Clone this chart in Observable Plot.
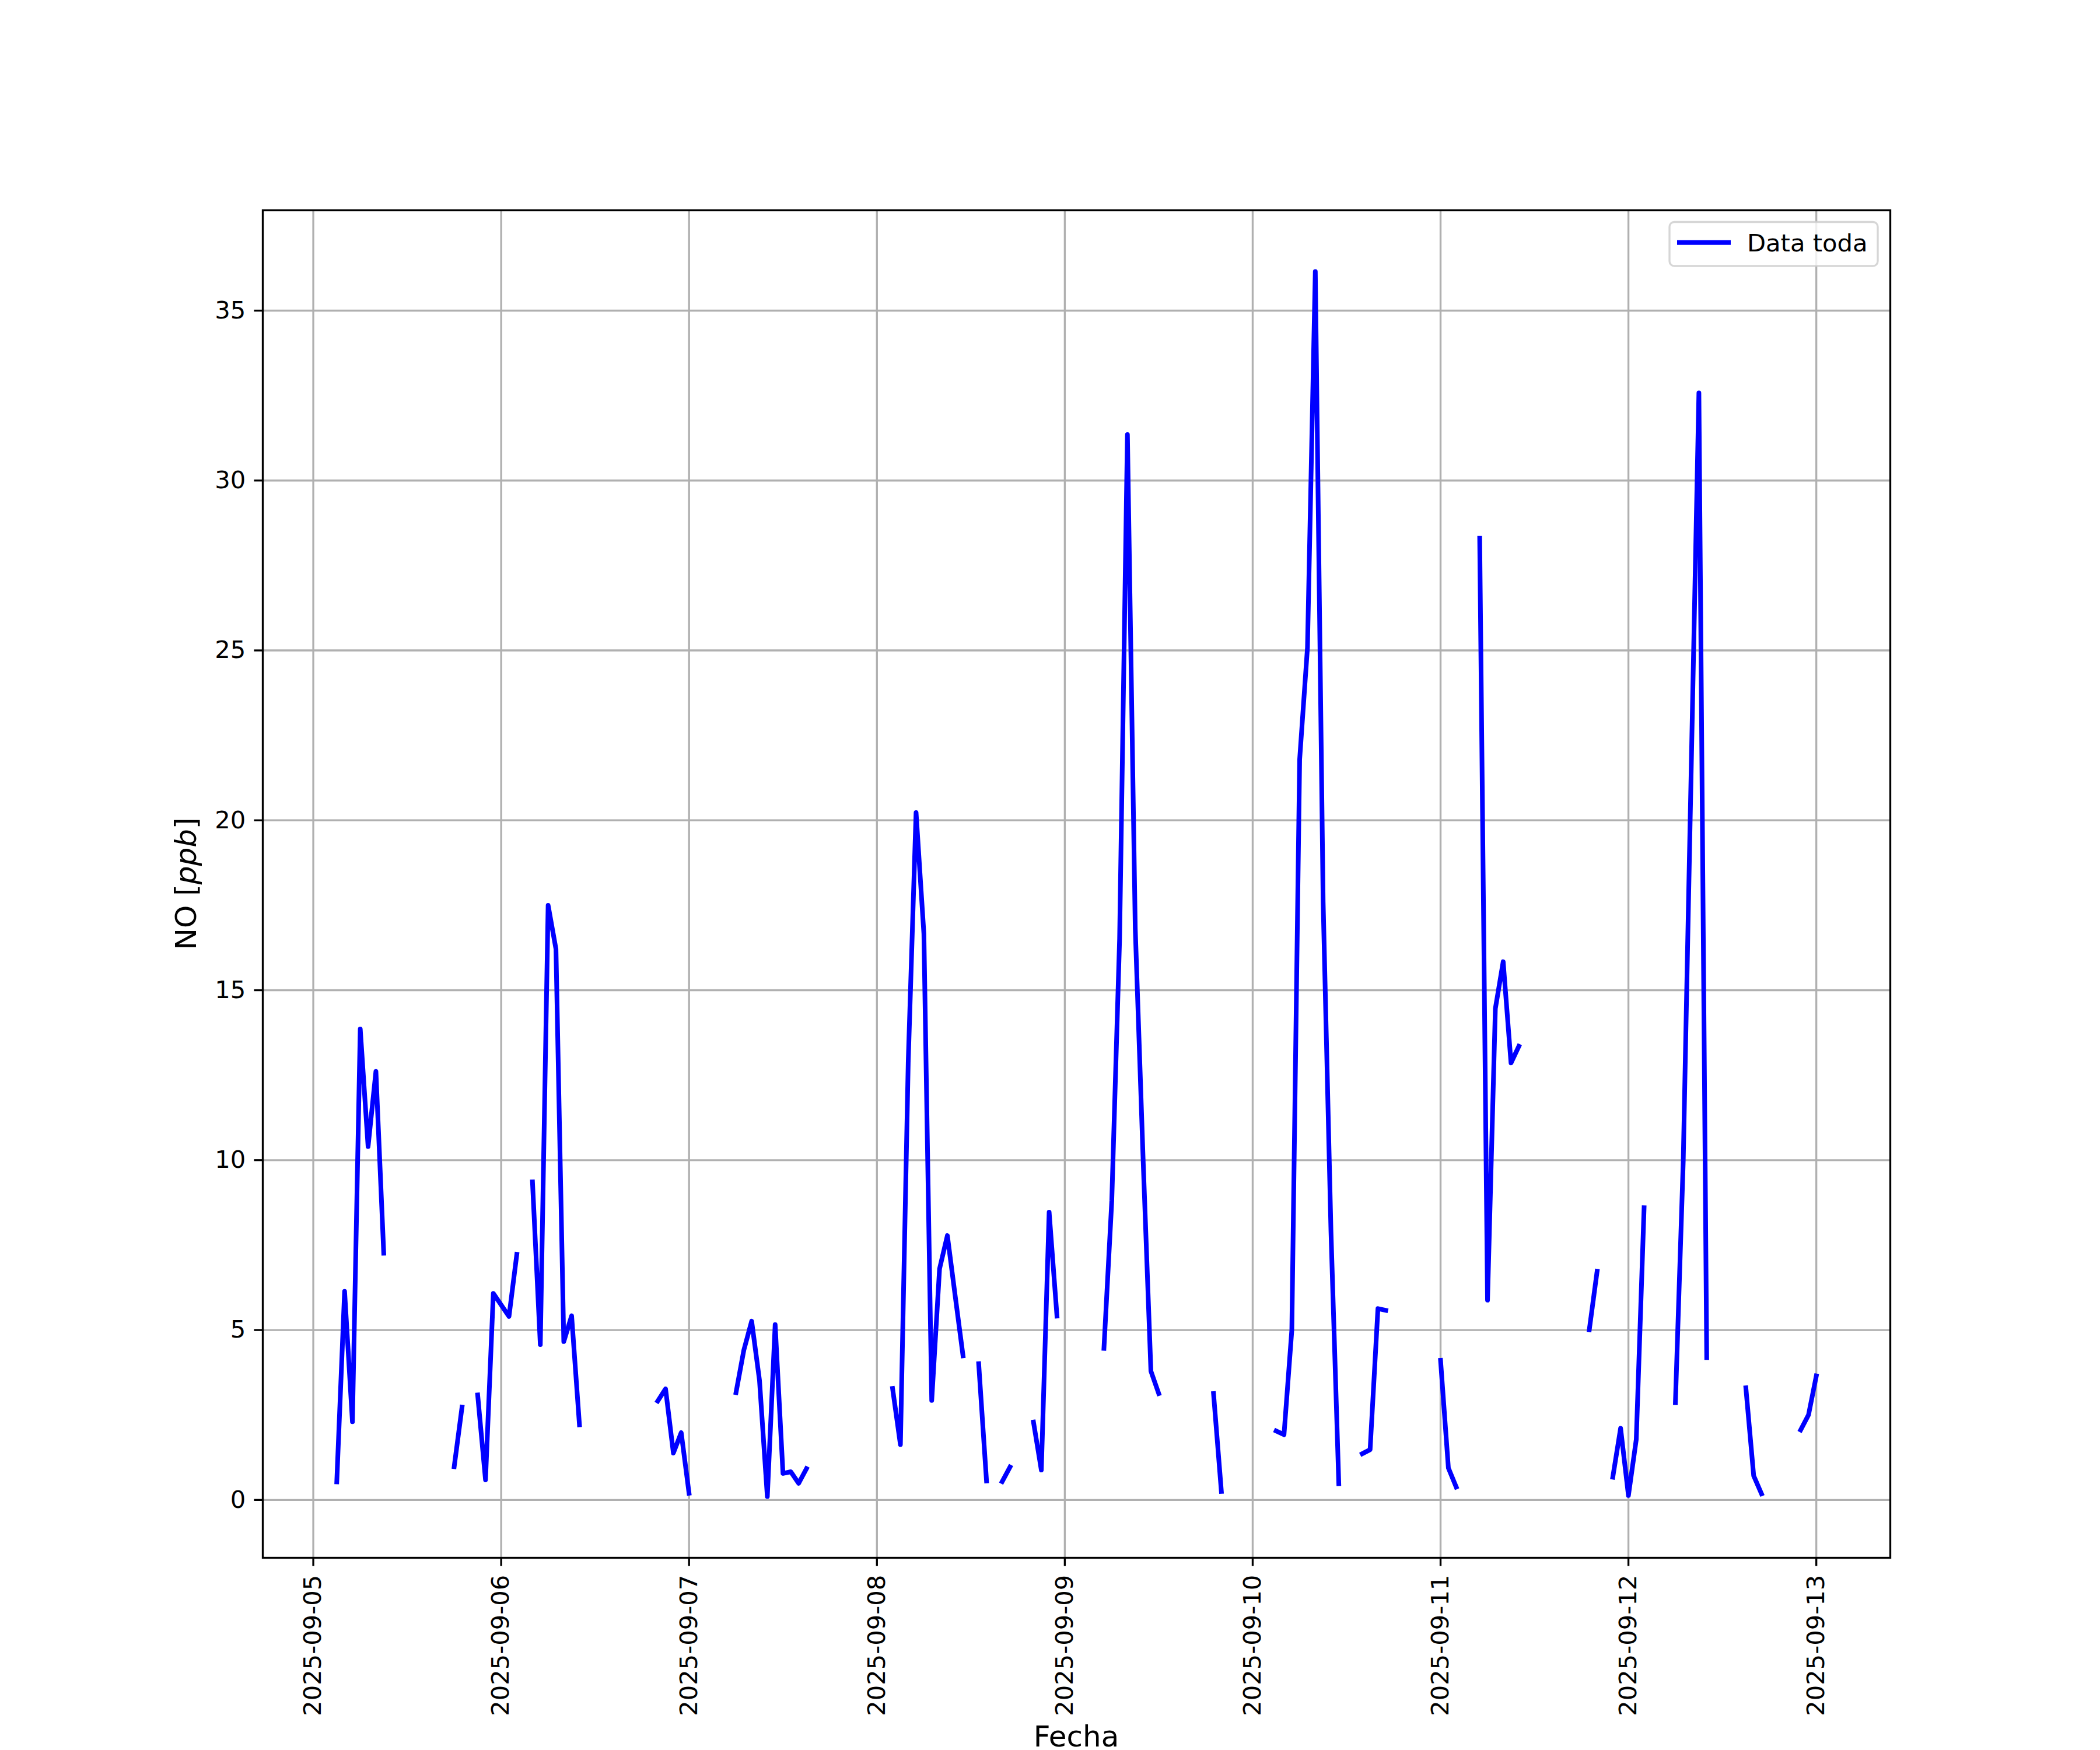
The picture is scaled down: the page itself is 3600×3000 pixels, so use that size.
<!DOCTYPE html>
<html>
<head>
<meta charset="utf-8">
<script src="https://cdn.jsdelivr.net/npm/d3@7"></script>
<script src="https://cdn.jsdelivr.net/npm/@observablehq/plot@0.6"></script>
<style>
  html, body { margin: 0; padding: 0; background: #ffffff; overflow: hidden; }
  #chart svg { display: block; }
</style>
</head>
<body>
<div id="chart"></div>
<script>
// ---- Data: hourly NO readings (ppb); each run of consecutive hours is a segment ----
const segmentStarts = [
  "2025-09-05T03:00", "2025-09-05T18:00", "2025-09-05T21:00", "2025-09-06T04:00",
  "2025-09-06T20:00", "2025-09-07T06:00", "2025-09-08T02:00", "2025-09-08T13:00",
  "2025-09-08T16:00", "2025-09-08T20:00", "2025-09-09T05:00", "2025-09-09T19:00",
  "2025-09-10T03:00", "2025-09-10T14:00", "2025-09-11T00:00", "2025-09-11T05:00",
  "2025-09-11T19:00", "2025-09-11T22:00", "2025-09-12T06:00", "2025-09-12T15:00",
  "2025-09-12T22:00"
];
const segmentValues = [
  [0.53, 6.14, 2.30, 13.86, 10.40, 12.61, 7.26],
  [0.98, 2.73],
  [3.09, 0.59, 6.08, 5.74, 5.40, 7.23],
  [9.36, 4.57, 17.50, 16.21, 4.66, 5.42, 2.21],
  [2.91, 3.27, 1.38, 1.98, 0.20],
  [3.16, 4.41, 5.26, 3.52, 0.10, 5.16, 0.78, 0.83, 0.49, 0.92],
  [3.28, 1.63, 12.9, 20.23, 16.66, 2.93, 6.80, 7.78, 6.0, 4.24],
  [4.01, 0.56],
  [0.54, 0.97],
  [2.29, 0.88, 8.47, 5.41],
  [4.46, 8.80, 16.51, 31.35, 16.82, 10.05, 3.79, 3.13],
  [3.13, 0.25],
  [2.03, 1.92, 5.00, 21.79, 25.09, 36.15, 17.60, 7.90, 0.48],
  [1.36, 1.48, 5.63, 5.58],
  [4.11, 0.94, 0.38],
  [28.30, 5.88, 14.46, 15.84, 12.86, 13.35],
  [5.01, 6.73],
  [0.67, 2.11, 0.13, 1.78, 8.60],
  [2.86, 9.96, 21.30, 32.58, 4.19],
  [3.30, 0.71, 0.18],
  [2.06, 2.50, 3.65]
];
const xTickLabels = ["2025-09-05", "2025-09-06", "2025-09-07", "2025-09-08", "2025-09-09",
                     "2025-09-10", "2025-09-11", "2025-09-12", "2025-09-13"];
const yTickValues = [0, 5, 10, 15, 20, 25, 30, 35];
const seriesName = "Data toda";
const xLabel = "Fecha";

// ---- Build table ----
const HOUR = 3600e3;
const rows = [];
segmentStarts.forEach((s, i) => {
  const t0 = Date.parse(s + ":00Z");
  segmentValues[i].forEach((v, j) => rows.push({t: new Date(t0 + j * HOUR), v, seg: i}));
});
const xTicks = xTickLabels.map(d => new Date(d + "T00:00:00Z"));

// matplotlib-style 5% margins
const [tMin, tMax] = d3.extent(rows, d => +d.t);
const [vMin, vMax] = d3.extent(rows, d => d.v);
const tPad = (tMax - tMin) * 0.05, vPad = (vMax - vMin) * 0.05;
const xDomain = [new Date(tMin - tPad), new Date(tMax + tPad)];
const yDomain = [vMin - vPad, vMax + vPad];

const FS = 41.67, LFS = 50, LW = 3.33, TICK = 14.58, DATA_LW = 8;

const chart = Plot.plot({
  width: 3600, height: 3000,
  marginLeft: 450, marginRight: 360, marginTop: 360, marginBottom: 330,
  style: {fontFamily: "'DejaVu Sans', sans-serif", fontSize: FS + "px", background: "white", color: "black", overflow: "visible"},
  x: {type: "utc", domain: xDomain, label: null},
  y: {domain: yDomain, label: null},
  marks: [
    Plot.gridX(xTicks, {stroke: "#b0b0b0", strokeWidth: LW, strokeOpacity: 1}),
    Plot.gridY(yTickValues, {stroke: "#b0b0b0", strokeWidth: LW, strokeOpacity: 1}),
    Plot.line(rows, {x: "t", y: "v", z: "seg", stroke: "#0000ff", strokeWidth: DATA_LW,
                     strokeLinejoin: "round", strokeLinecap: "square", curve: "linear"}),
    Plot.frame({stroke: "black", strokeWidth: LW}),
    Plot.axisX(xTicks, {tickSize: TICK, tickPadding: TICK, tickRotate: -90, strokeWidth: LW,
                        tickFormat: d3.utcFormat("%Y-%m-%d"), fontSize: FS, label: null}),
    Plot.axisY(yTickValues, {tickSize: TICK, tickPadding: TICK, strokeWidth: LW,
                             tickFormat: d3.format("d"), fontSize: FS, label: null})
  ]
});
document.getElementById("chart").appendChild(chart);

// ---- Axis labels and legend ----
const svg = d3.select(chart);
const fam = "'DejaVu Sans', sans-serif";
svg.append("text")
  .attr("x", 1845).attr("y", 2994)
  .attr("text-anchor", "middle").attr("font-family", fam).attr("font-size", LFS).attr("fill", "black")
  .text(xLabel);

const yl = svg.append("text")
  .attr("transform", "translate(336,1515) rotate(-90)")
  .attr("text-anchor", "middle").attr("font-family", fam).attr("font-size", LFS).attr("fill", "black");
yl.append("tspan").text("NO [");
yl.append("tspan").attr("font-style", "italic").text("ppb");
yl.append("tspan").text("]");

const lg = svg.append("g");
lg.append("rect")
  .attr("x", 2862).attr("y", 380.5).attr("width", 357).attr("height", 75.5)
  .attr("rx", 8.3).attr("ry", 8.3)
  .attr("fill", "white").attr("fill-opacity", 0.8)
  .attr("stroke", "#cccccc").attr("stroke-opacity", 0.8).attr("stroke-width", LW);
lg.append("line")
  .attr("x1", 2875).attr("x2", 2967).attr("y1", 415.7).attr("y2", 415.7)
  .attr("stroke", "#0000ff").attr("stroke-width", DATA_LW);
lg.append("text")
  .attr("x", 2995).attr("y", 431)
  .attr("text-anchor", "start")
  .attr("font-family", fam).attr("font-size", FS).attr("fill", "black")
  .text(seriesName);
</script>
</body>
</html>
